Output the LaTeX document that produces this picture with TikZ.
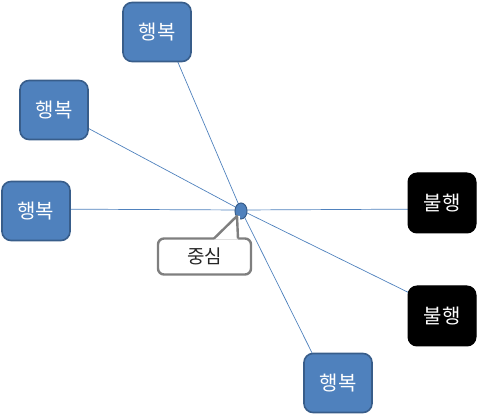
\documentclass[tikz,border=0pt]{standalone}
\usepackage{fontspec}
\usetikzlibrary{shapes.geometric}
\newfontfamily\kr{Noto Sans CJK KR}
\definecolor{boxblue}{HTML}{4F81BD}
\definecolor{boxedge}{HTML}{385D8A}
\definecolor{linkblue}{HTML}{4F81BD}
\definecolor{calloutgray}{HTML}{7F7F7F}
\begin{document}
\begin{tikzpicture}[x=1pt,y=-1pt,
  happy/.style={draw=boxedge,line width=1.6pt,fill=boxblue,rounded corners=9pt,
    minimum width=68pt,minimum height=59pt,text=white,font=\kr\fontsize{20}{22}\selectfont,inner sep=0pt},
  unhappy/.style={draw=black,line width=1pt,fill=black,rounded corners=9pt,
    minimum width=68pt,minimum height=60pt,text=white,font=\kr\fontsize{20}{22}\selectfont,inner sep=0pt},
  link/.style={draw=linkblue,line width=0.7pt}]
\useasboundingbox (0,0) rectangle (479,419);
% center
\coordinate (c) at (241,210);
% link anchors (ends of connectors)
\coordinate (e1) at (165,32);
\coordinate (e2) at (54,110);
\coordinate (e3) at (36,209);
\coordinate (e4) at (327,383);
\coordinate (e5) at (442,209);
\coordinate (e6) at (442,309);
\foreach \e in {e1,e2,e3,e4,e5,e6} \draw[link] (c) -- (\e);
% boxes
\node[happy] (h1) at (157,32) {행복};
\node[happy] (h2) at (54,110) {행복};
\node[happy] (h3) at (36,211) {행복};
\node[happy] (h4) at (338,383) {행복};
\node[unhappy] (u1) at (442,203) {불행};
\node[unhappy] (u2) at (442,316) {불행};
% center dot
\node[ellipse,draw=boxedge,line width=1pt,fill=boxblue,minimum width=12pt,minimum height=16pt,inner sep=0pt] (dot) at (241,211) {};
% callout
\node[draw=calloutgray,line width=2.4pt,fill=white,rounded corners=6pt,minimum width=93pt,minimum height=36pt,
  font=\kr\fontsize{19}{21}\selectfont,text=black!85,inner sep=0pt] (cal) at (204.5,256.5) {중심};
\fill[white] (214,239.6) -- (237,216) -- (240,216) -- (238,239.6) -- cycle;
\draw[calloutgray,line width=2.4pt,line join=round] (214,238.5) -- (237,216) -- (238,238.5);
\end{tikzpicture}
\end{document}
